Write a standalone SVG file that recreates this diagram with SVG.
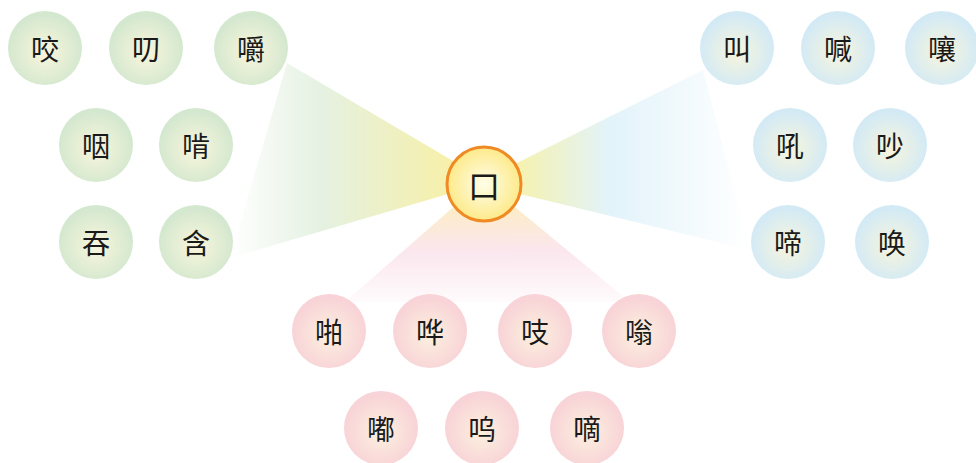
<svg xmlns="http://www.w3.org/2000/svg" width="976" height="463" viewBox="0 0 976 463">
<defs>
  <radialGradient id="gG" cx="0.5" cy="0.55" r="0.5">
    <stop offset="0" stop-color="#f9f6dc"/>
    <stop offset="1" stop-color="#d4e8cf"/>
  </radialGradient>
  <radialGradient id="gB" cx="0.5" cy="0.55" r="0.5">
    <stop offset="0" stop-color="#f8f5dc"/>
    <stop offset="1" stop-color="#d3eaf5"/>
  </radialGradient>
  <radialGradient id="gP" cx="0.5" cy="0.55" r="0.5">
    <stop offset="0" stop-color="#fcf1df"/>
    <stop offset="1" stop-color="#f8d3d7"/>
  </radialGradient>
  <radialGradient id="gC" cx="0.5" cy="0.5" r="0.5">
    <stop offset="0" stop-color="#fffde8"/>
    <stop offset="1" stop-color="#fdea8a"/>
  </radialGradient>
  <linearGradient id="bL" gradientUnits="userSpaceOnUse" x1="230" y1="0" x2="455" y2="0">
    <stop offset="0" stop-color="#ffffff"/>
    <stop offset="0.4" stop-color="#e5f1e2"/>
    <stop offset="1" stop-color="#f7f0a8"/>
  </linearGradient>
  <linearGradient id="bR" gradientUnits="userSpaceOnUse" x1="515" y1="0" x2="750" y2="0">
    <stop offset="0" stop-color="#f6f2ad"/>
    <stop offset="0.4" stop-color="#e2f3fa"/>
    <stop offset="1" stop-color="#ffffff"/>
  </linearGradient>
  <linearGradient id="bB" gradientUnits="userSpaceOnUse" x1="0" y1="200" x2="0" y2="312">
    <stop offset="0" stop-color="#fdeec0"/>
    <stop offset="0.45" stop-color="#fbe6ee"/>
    <stop offset="1" stop-color="#ffffff"/>
  </linearGradient>
</defs>
<style>
  .g { fill: url(#gG); }
  .b { fill: url(#gB); }
  .p { fill: url(#gP); }
  .c { fill: url(#gC); stroke: #f08a24; stroke-width: 3; }
  text { font-family: "Noto Sans CJK SC", "Noto Sans CJK TC", sans-serif; font-size: 28px; fill: #1a1a1a; text-anchor: middle; dominant-baseline: central; }
  .ct { font-size: 32px; }
</style>
<g id="connectors">
  <polygon points="287,63 453,161 448,194 230,258" fill="url(#bL)"/>
  <polygon points="703,70 517,163 520,194 750,250" fill="url(#bR)"/>
  <polygon points="458,203 510,203 630,302 345,302" fill="url(#bB)"/>
</g>
<g id="n-yao"><circle class="g" cx="45" cy="48" r="37"/><text x="45" y="48">咬</text></g>
<g id="n-dao"><circle class="g" cx="146" cy="48" r="37"/><text x="146" y="48">叨</text></g>
<g id="n-jue"><circle class="g" cx="251" cy="48" r="37"/><text x="251" y="48">嚼</text></g>
<g id="n-yan"><circle class="g" cx="96" cy="145" r="37"/><text x="96" y="145">咽</text></g>
<g id="n-ken"><circle class="g" cx="196" cy="145" r="37"/><text x="196" y="145">啃</text></g>
<g id="n-tun"><circle class="g" cx="96" cy="242" r="37"/><text x="96" y="242">吞</text></g>
<g id="n-han"><circle class="g" cx="196" cy="242" r="37"/><text x="196" y="242">含</text></g>

<g id="n-jiao"><circle class="b" cx="737" cy="48" r="37"/><text x="737" y="48">叫</text></g>
<g id="n-han2"><circle class="b" cx="838" cy="48" r="37"/><text x="838" y="48">喊</text></g>
<g id="n-rang"><circle class="b" cx="942" cy="48" r="37"/><text x="942" y="48">嚷</text></g>
<g id="n-hou"><circle class="b" cx="790" cy="145" r="37"/><text x="790" y="145">吼</text></g>
<g id="n-chao"><circle class="b" cx="890" cy="145" r="37"/><text x="890" y="145">吵</text></g>
<g id="n-ti"><circle class="b" cx="788" cy="242" r="37"/><text x="788" y="242">啼</text></g>
<g id="n-huan"><circle class="b" cx="892" cy="242" r="37"/><text x="892" y="242">唤</text></g>

<g id="n-pa"><circle class="p" cx="329" cy="331" r="37"/><text x="329" y="331">啪</text></g>
<g id="n-hua"><circle class="p" cx="430" cy="331" r="37"/><text x="430" y="331">哗</text></g>
<g id="n-zhi"><circle class="p" cx="535" cy="331" r="37"/><text x="535" y="331">吱</text></g>
<g id="n-weng"><circle class="p" cx="639" cy="331" r="37"/><text x="639" y="331">嗡</text></g>
<g id="n-du"><circle class="p" cx="381" cy="428" r="37"/><text x="381" y="428">嘟</text></g>
<g id="n-wu"><circle class="p" cx="482" cy="428" r="37"/><text x="482" y="428">呜</text></g>
<g id="n-di"><circle class="p" cx="587" cy="428" r="37"/><text x="587" y="428">嘀</text></g>

<g id="n-kou"><circle class="c" cx="484" cy="184" r="37"/><text class="ct" x="484" y="184">口</text></g>
</svg>
